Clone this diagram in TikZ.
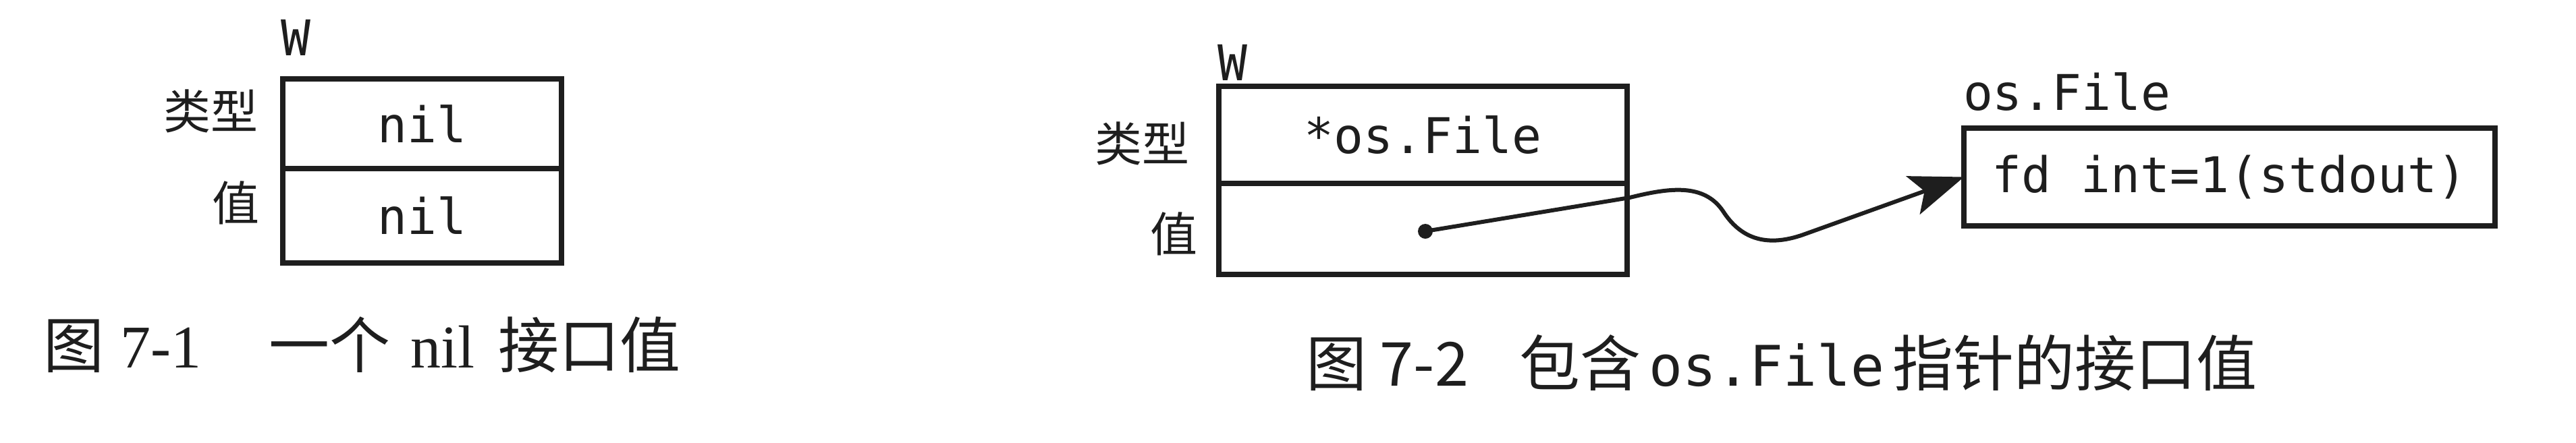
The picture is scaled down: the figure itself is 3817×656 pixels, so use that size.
\documentclass[tikz,border=0pt]{standalone}
\usepackage{fontspec}
\newfontfamily\cjk{Noto Sans CJK SC}
\newfontfamily\mono{DejaVu Sans Mono}
\newfontfamily\tms{Liberation Serif}
\usetikzlibrary{arrows.meta}
\definecolor{ink}{HTML}{1e1e1e}
\tikzset{
  cell/.style={draw=ink, line width=0.8pt, inner sep=0pt, outer sep=0pt, text=ink,
    font=\mono\fontsize{7.3}{8}\selectfont},
  monolab/.style={inner sep=0pt, text=ink, font=\mono\fontsize{7.3}{8}\selectfont},
  cjklab/.style={inner sep=0pt, text=ink, font=\cjk\fontsize{7}{8}\selectfont},
  captext/.style={inner sep=0pt, text=ink, font=\cjk\fontsize{9}{10}\selectfont},
  conn/.style={draw=ink, line width=0.6pt, -{Stealth[length=8pt,width=6pt,inset=1.8pt]}},
}
\begin{document}
\begin{tikzpicture}[x=0.1pt,y=-0.1pt]
\useasboundingbox (0,0) rectangle (3817,656);
\fill[white] (0,0) rectangle (3817,656);

% ---- Figure 7-1 ----
\node[cell, minimum width=41.3pt, minimum height=13.3pt] (t1) at (625.5,183.5) {nil};
\node[cell, minimum width=41.3pt, minimum height=14pt, anchor=north] (v1) at (t1.south) {nil};
\node[monolab, anchor=base west] (w1) at (414,82) {W};
\node[cjklab, anchor=east] (lt1) at (384,165) {类型};
\node[cjklab, anchor=east] (lv1) at (386,301) {值};
\node[captext, anchor=west] (c1) at (62,511) {图\hspace{2.5pt}{\tms 7-1}\hspace{10pt}一个\hspace{3pt}{\tms nil}\hspace{3.5pt}接口值};

% ---- Figure 7-2 ----
\node[cell, minimum width=60.5pt, minimum height=14.4pt] (t2) at (2108.5,200) {*os.File};
\node[cell, minimum width=60.5pt, minimum height=13.5pt, anchor=north] (v2) at (t2.south) {};
\node[monolab, anchor=base west] (w2) at (1802,119) {W};
\node[cjklab, anchor=east] (lt2) at (1764,213) {类型};
\node[cjklab, anchor=east] (lv2) at (1776,347) {值};

\node[monolab, anchor=base west] (fl) at (2907,163) {os.File};
\node[cell, minimum width=78.7pt, minimum height=14.5pt] (fd) at (3303.5,262.5) {fd int=1(stdout)};

\coordinate (dot) at (2112,343);
\fill[ink] (dot) circle[radius=1.1pt];
\draw[conn] (dot) -- (2415,293) .. controls (2475,278) and (2525,272) .. (2553,313)
  .. controls (2578,352) and (2615,368) .. (2672,348) -- (fd.west);

\node[captext, anchor=west] (c2) at (1933,538) {图\hspace{2pt}7-2\hspace{7.5pt}包含\hspace{1.2pt}{\mono\fontsize{8.3}{10}\selectfont os.File}\hspace{1.2pt}指针的接口值};
\end{tikzpicture}
\end{document}
